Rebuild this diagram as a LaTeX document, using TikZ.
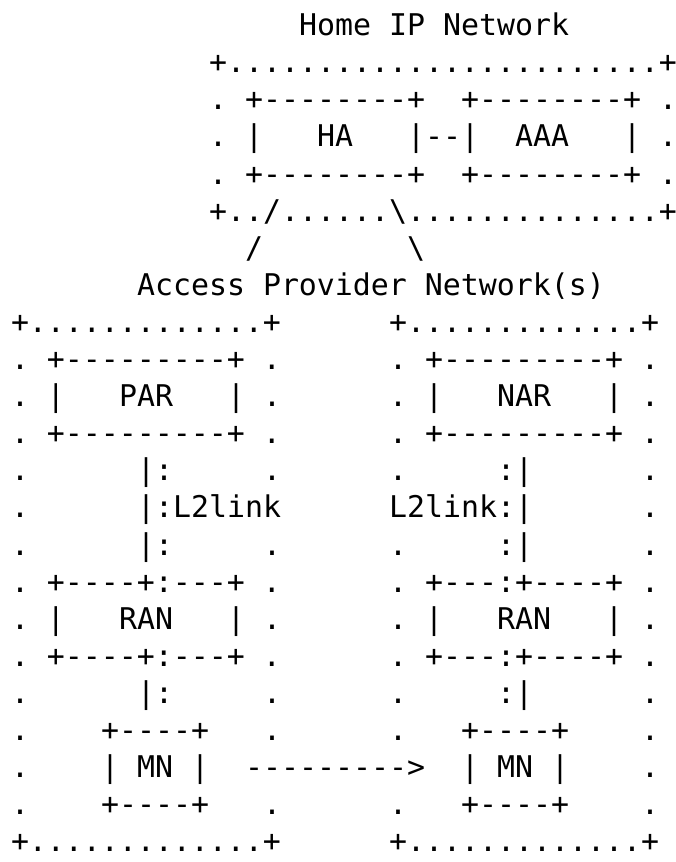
\documentclass[tikz,border=0pt]{standalone}
\usepackage{fontspec}
\setmonofont{DejaVu Sans Mono}
\usepackage{tikz}

\begin{document}
\begin{tikzpicture}[x=18pt, y=-37.1pt,
    txt/.style={anchor=base west, inner sep=0pt, outer sep=0pt,
      font=\ttfamily\frenchspacing\fontsize{29.9}{36}\selectfont}]
    \useasboundingbox (-0.6111,-0.9596) rectangle (36.9444,22.2749);
    % home network
    \node (home) [txt] at (16,0) {Home IP Network};
    \node (homeTop) [txt] at (11,1) {+........................+};
    \node (haTopL) [txt] at (11,2) {. +--------+};
    \node (haTopR) [txt] at (25,2) {+--------+ .};
    \node (homeL) [txt] at (11,3) {. |};
    \node (HA) [txt] at (17,3) {HA};
    \node (haLink) [txt] at (22,3) {|--|};
    \node (AAA) [txt] at (28,3) {AAA};
    \node (homeR) [txt] at (34,3) {| .};
    \node (haBotL) [txt] at (11,4) {. +--------+};
    \node (haBotR) [txt] at (25,4) {+--------+ .};
    \node (homeBot) [txt] at (11,5) {+../......\textbackslash..............+};
    \node (legL) [txt] at (13,6) {/};
    \node (legR) [txt] at (22,6) {\textbackslash};
    \node (access) [txt] at (7,7) {Access Provider Network(s)};
    % access networks
    \foreach \x in {0,21} {
      \node (apTop\x) [txt] at (\x,8) {+.............+};
      \node (arTop\x) [txt] at (\x,9) {. +---------+ .};
      \node (arBot\x) [txt] at (\x,11) {. +---------+ .};
      \node (apBot\x) [txt] at (\x,22) {+.............+};
    }
    % previous access router side
    \node (parL) [txt] at (0,10) {. |};
    \node (PAR) [txt] at (6,10) {PAR};
    \node (parR) [txt] at (12,10) {| .};
    \node (pa1) [txt] at (0,12) {.};
    \node (pLink1) [txt] at (7,12) {|:};
    \node (pb1) [txt] at (14,12) {.};
    \node (pa2) [txt] at (0,13) {.};
    \node (pLink2) [txt] at (7,13) {|:L2link};
    \node (pa3) [txt] at (0,14) {.};
    \node (pLink3) [txt] at (7,14) {|:};
    \node (pb3) [txt] at (14,14) {.};
    \node (pRanTop) [txt] at (0,15) {. +----+:---+ .};
    \node (pRanL) [txt] at (0,16) {. |};
    \node (pRAN) [txt] at (6,16) {RAN};
    \node (pRanR) [txt] at (12,16) {| .};
    \node (pRanBot) [txt] at (0,17) {. +----+:---+ .};
    \node (pa4) [txt] at (0,18) {.};
    \node (pLink4) [txt] at (7,18) {|:};
    \node (pb4) [txt] at (14,18) {.};
    \node (pa5) [txt] at (0,19) {.};
    \node (pMnTop) [txt] at (5,19) {+----+};
    \node (pb5) [txt] at (14,19) {.};
    \node (pa6) [txt] at (0,20) {.};
    \node (pMN) [txt] at (5,20) {| MN |};
    \node (move) [txt] at (13,20) {--------->};
    \node (pa7) [txt] at (0,21) {.};
    \node (pMnBot) [txt] at (5,21) {+----+};
    \node (pb7) [txt] at (14,21) {.};
    % new access router side
    \node (narL) [txt] at (21,10) {. |};
    \node (NAR) [txt] at (27,10) {NAR};
    \node (narR) [txt] at (33,10) {| .};
    \node (na1) [txt] at (21,12) {.};
    \node (nLink1) [txt] at (27,12) {:|};
    \node (nb1) [txt] at (35,12) {.};
    \node (nLink2) [txt] at (21,13) {L2link:|};
    \node (nb2) [txt] at (35,13) {.};
    \node (na3) [txt] at (21,14) {.};
    \node (nLink3) [txt] at (27,14) {:|};
    \node (nb3) [txt] at (35,14) {.};
    \node (nRanTop) [txt] at (21,15) {. +---:+----+ .};
    \node (nRanL) [txt] at (21,16) {. |};
    \node (nRAN) [txt] at (27,16) {RAN};
    \node (nRanR) [txt] at (33,16) {| .};
    \node (nRanBot) [txt] at (21,17) {. +---:+----+ .};
    \node (na4) [txt] at (21,18) {.};
    \node (nLink4) [txt] at (27,18) {:|};
    \node (nb4) [txt] at (35,18) {.};
    \node (na5) [txt] at (21,19) {.};
    \node (nMnTop) [txt] at (25,19) {+----+};
    \node (nb5) [txt] at (35,19) {.};
    \node (nMN) [txt] at (25,20) {| MN |};
    \node (nb6) [txt] at (35,20) {.};
    \node (na7) [txt] at (21,21) {.};
    \node (nMnBot) [txt] at (25,21) {+----+};
    \node (nb7) [txt] at (35,21) {.};
  \end{tikzpicture}
\end{document}
